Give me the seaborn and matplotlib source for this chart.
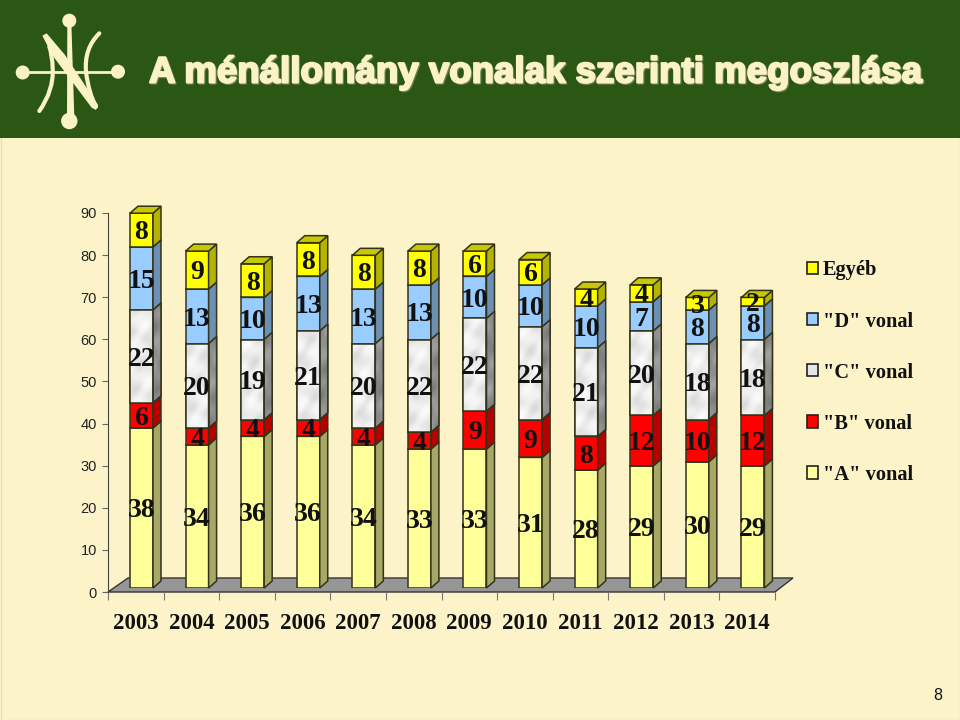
import numpy as np
import matplotlib
matplotlib.use('Agg')
import matplotlib.pyplot as plt
import matplotlib.patheffects as pe
from matplotlib.patches import Circle, PathPatch, Patch, Polygon, Rectangle
from matplotlib.path import Path
import seaborn as sns

# Data
years = ['2003', '2004', '2005', '2006', '2007', '2008', '2009', '2010', '2011', '2012', '2013', '2014']
vonal_a = [38, 34, 36, 36, 34, 33, 33, 31, 28, 29, 30, 29]
vonal_b = [6, 4, 4, 4, 4, 4, 9, 9, 8, 12, 10, 12]
vonal_c = [22, 20, 19, 21, 20, 22, 22, 22, 21, 20, 18, 18]
vonal_d = [15, 13, 10, 13, 13, 13, 10, 10, 10, 7, 8, 8]
egyeb = [8, 9, 8, 8, 8, 8, 6, 6, 4, 4, 3, 2]
y_ticks = [0, 10, 20, 30, 40, 50, 60, 70, 80, 90]

series = [vonal_a, vonal_b, vonal_c, vonal_d, egyeb]
names = ['"A" vonal', '"B" vonal', '"C" vonal', '"D" vonal', 'Egyéb']
front = ['#ffff99', '#ff0000', '#e6e6e8', '#99ccff', '#ffff00']
side = ['#a8a866', '#b80000', '#9a9a9c', '#6c90b4', '#b4b400']
top = ['#c4c478', '#d80000', '#b8b8ba', '#80a8d0', '#c8c800']
edge = '#33331c'
serif = 'Liberation Serif'

sns.set_style('white')
plt.rcParams['font.family'] = 'Liberation Sans'
plt.rcParams['axes.facecolor'] = 'none'

W, H = 960, 720
fig = plt.figure(figsize=(9.6, 7.2), dpi=100, facecolor='#fdf3c9')


def box(left, top_px, right, bottom_px):
    return [left / W, 1 - bottom_px / H, (right - left) / W, (bottom_px - top_px) / H]


def logo(x, y):
    return (10 + x / 3, 5 + y / 3)


def marble_tex(w, h, phase):
    gx, gy = np.meshgrid(np.arange(w), np.arange(h))
    return (np.sin(gx * 0.27 + gy * 0.09 + phase) + np.sin(gx * 0.11 - gy * 0.23 + phase * 2)
            + np.sin(gx * 0.41 + gy * 0.31 + phase * 3) * 0.5) / 2.5


# Slide background in pixel coordinates: header, logo, chart floor
bg = fig.add_axes([0, 0, 1, 1], zorder=0)
bg.set_xlim(0, W)
bg.set_ylim(H, 0)
bg.axis('off')
bg.add_patch(Rectangle((0.5, 0.5), W - 1, H - 1, fc='none', ec='#e6e0ba', lw=1))
bg.add_patch(Rectangle((0, 0), W, 138, fc='#2b5714', ec='none'))
bg.add_patch(Polygon([(108, 592), (775, 592), (793, 578), (128, 578)], fc='#969696', ec='#333333', lw=1))

cream = '#fbf2c8'
bg.plot([23, 118], [72.3, 72.3], color=cream, lw=2, solid_capstyle='round')
bg.add_patch(Polygon([logo(172, 50), logo(184, 50), logo(193, 340), logo(171, 340)], fc=cream, ec='none'))
for cx, cy, r in [(69.3, 20.7, 7), (69.3, 121, 8.2), (22.7, 72.5, 7), (118, 71.7, 7)]:
    bg.add_patch(Circle((cx, cy), r, fc=cream, ec='none'))
bg.add_patch(Polygon([logo(97, 92), logo(110, 85), logo(165, 150), logo(264, 300), logo(258, 315),
                      logo(245, 308), logo(128, 152)], fc=cream, ec='none'))
curves = [
    ([logo(268, 85), logo(222, 130), logo(228, 200), logo(236, 265), logo(258, 305)], 3),
    ([logo(88, 318), logo(132, 255), logo(128, 190), logo(127, 150), logo(118, 125)], 3),
]
for pts, lw in curves:
    codes = [Path.MOVETO, Path.CURVE3, Path.CURVE3, Path.CURVE3, Path.CURVE3]
    bg.add_patch(PathPatch(Path(pts, codes), fc='none', ec=cream, lw=lw, capstyle='round'))

bg.text(149, 73, 'A ménállomány vonalak szerinti megoszlása', color=cream, fontsize=26.4,
        fontweight='bold', va='center', ha='left',
        path_effects=[pe.Stroke(linewidth=1.5, foreground='#71804f', offset=(0.8, -0.8)),
                      pe.Stroke(linewidth=1.5, foreground=cream), pe.Normal()])
bg.text(938, 696, '8', color='#111111', fontsize=11.5, ha='center', va='center')

# Axes with the scale: 0 at y=592, 90 at y=213
ax = fig.add_axes(box(108, 213, 775, 592), zorder=1)
ax.set_xlim(-0.5, 11.5)
ax.set_ylim(0, 90)
sns.despine(ax=ax)
ax.spines['left'].set_color('#444444')
ax.spines['bottom'].set_visible(False)
ax.set_yticks(y_ticks)
ax.set_xticks(np.arange(-0.5, 12, 1))
ax.set_xticklabels([])
ax.set_xticks(np.arange(12), labels=years, minor=True)
ax.tick_params(axis='y', left=True, length=4, width=0.8, color='#666666', labelsize=10.5, labelcolor='#222222', pad=4)
ax.tick_params(axis='x', which='major', bottom=True, length=6, width=0.8, color='#777777')
ax.tick_params(axis='x', which='minor', bottom=False, length=0, pad=15, labelsize=16.5, labelcolor='#111111')
for lab in ax.get_xticklabels(minor=True):
    lab.set_fontfamily(serif)
    lab.set_fontweight('bold')

# Bars sit a little behind the axis plane
bar_ax = fig.add_axes(box(113.7, 209, 780.7, 588), zorder=2)
dx = 8 / 55.6
dy = 7 / 4.21
bottom = np.zeros(len(years))
for i, vals in enumerate(series):
    n_before = len(bar_ax.containers)
    sns.barplot(x=years, y=vals, bottom=bottom, color=front[i], saturation=1, width=0.414,
                edgecolor=edge, linewidth=1.1, ax=bar_ax, zorder=3)
    cont = bar_ax.containers[n_before]
    for j, p in enumerate(cont):
        x0, x1 = p.get_x(), p.get_x() + p.get_width()
        y0, y1 = p.get_y(), p.get_y() + p.get_height()
        side_face = Polygon([(x1, y0), (x1 + dx, y0 + dy), (x1 + dx, y1 + dy), (x1, y1)],
                            fc=side[i], ec=edge, lw=1.1, zorder=3, clip_on=False)
        bar_ax.add_patch(side_face)
        bar_ax.add_patch(Polygon([(x0, y1), (x1, y1), (x1 + dx, y1 + dy), (x0 + dx, y1 + dy)],
                                 fc=top[i], ec=edge, lw=1.1, zorder=3, clip_on=False))
        # marble look for the "C" segments
        if i == 2:
            tex = marble_tex(24, int((y1 - y0) * 4.21), j * 1.3)
            im = bar_ax.imshow(tex, cmap='Greys', vmin=-1.27, vmax=7.8, aspect='auto', zorder=4,
                               interpolation='bilinear', extent=(x0, x1, y0, y1))
            im.set_clip_path(p)
            im2 = bar_ax.imshow(marble_tex(8, int((y1 - y0) * 4.21), j * 0.7), cmap='Greys', vmin=-7, vmax=6.3,
                                aspect='auto', zorder=4, interpolation='bilinear', extent=(x1, x1 + dx, y0, y1 + dy))
            im2.set_clip_path(side_face)
            bar_ax.add_patch(Rectangle((x0, y0), x1 - x0, y1 - y0, fc='none', ec=edge, lw=1.1, zorder=5))
            bar_ax.add_patch(Polygon(side_face.get_xy(), fc='none', ec=edge, lw=1.1, zorder=5, clip_on=False))
    labs = bar_ax.bar_label(cont, labels=[str(v) for v in vals], label_type='center', fontsize=20,
                            fontfamily=serif, fontweight='bold', color='#111111', zorder=6)
    for lab in labs:
        lab.xyann = (0, -2)
    bottom = bottom + np.array(vals)
bar_ax.set_xlim(-0.5, 11.5)
bar_ax.set_ylim(0, 90)
bar_ax.axis('off')

handles = [Patch(fc=front[i], ec='#222222', lw=1.2, label=names[i]) for i in range(4, -1, -1)]
fig.legend(handles=handles, loc='upper left', bbox_to_anchor=(806.5 / W, 1 - 260.5 / H), frameon=False,
           handlelength=0.55, handleheight=0.55, handletextpad=0.25, labelspacing=1.52,
           prop={'family': serif, 'weight': 'bold', 'size': 14.7}, labelcolor='#111111',
           borderpad=0, borderaxespad=0)

fig.savefig('out.png', dpi=100, facecolor=fig.get_facecolor())
